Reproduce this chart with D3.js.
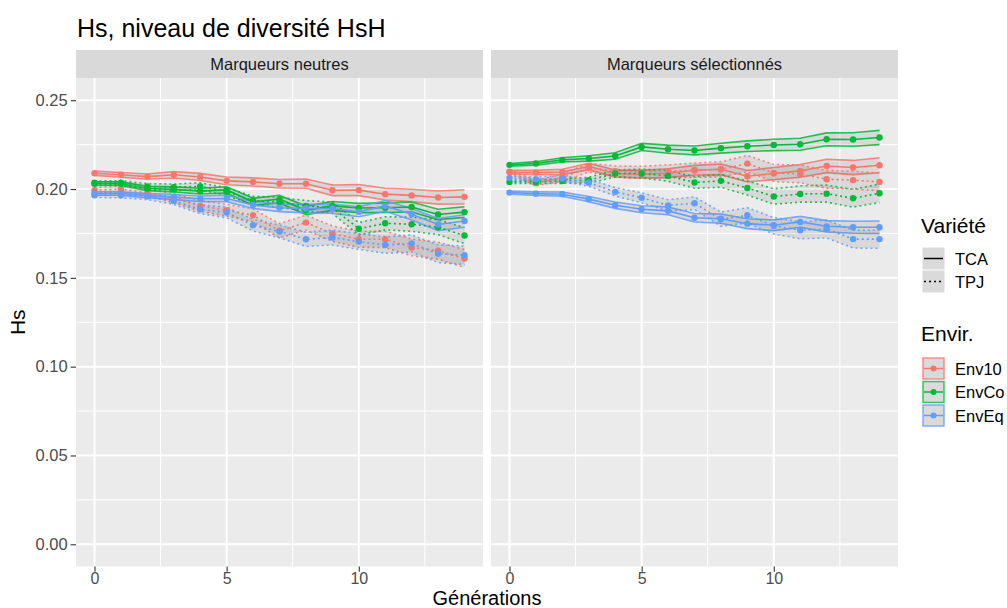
<!DOCTYPE html>
<html><head><meta charset="utf-8">
<script src="https://cdn.jsdelivr.net/npm/d3@7"></script>
<style>body{margin:0;background:#fff}text{font-family:"Liberation Sans",Arial,sans-serif}</style>
</head><body><svg id="c" width="1007" height="608"></svg>
<script>
// ---------------- data ----------------
const generations = [0,1,2,3,4,5,6,7,8,9,10,11,12,13,14];
const panels = ["Marqueurs neutres", "Marqueurs sélectionnés"];
const envs = ["Env10", "EnvCo", "EnvEq"];
const varieties = ["TCA", "TPJ"];
const yTicks = [0, 0.05, 0.10, 0.15, 0.20, 0.25];
const yTickLabels = ["0.00", "0.05", "0.10", "0.15", "0.20", "0.25"];
const xTicks = [0, 5, 10];

// Marqueurs neutres
const neu_Env10_TCA = [0.2089,0.2080,0.2070,0.2080,0.2068,0.2046,0.2040,0.2030,0.2030,0.1993,0.1994,0.1971,0.1964,0.1952,0.1956];
const neu_Env10_TCA_se = [0.0012,0.0013,0.0015,0.0018,0.0020,0.0022,0.0023,0.0024,0.0026,0.0030,0.0031,0.0033,0.0035,0.0037,0.0040];
const neu_Env10_TPJ = [0.1993,0.1999,0.1979,0.1948,0.1905,0.1881,0.1852,0.1765,0.1811,0.1749,0.1717,0.1717,0.1671,0.1653,0.1609];
const neu_Env10_TPJ_se = [0.0015,0.0017,0.0020,0.0025,0.0030,0.0033,0.0036,0.0040,0.0042,0.0043,0.0045,0.0046,0.0047,0.0048,0.0050];
const neu_EnvCo_TCA = [0.2030,0.2030,0.2003,0.1998,0.1988,0.1995,0.1928,0.1943,0.1880,0.1905,0.1893,0.1895,0.1899,0.1857,0.1870];
const neu_EnvCo_TCA_se = [0.0010,0.0010,0.0012,0.0014,0.0016,0.0018,0.0020,0.0022,0.0024,0.0025,0.0026,0.0027,0.0028,0.0029,0.0030];
const neu_EnvCo_TPJ = [0.2035,0.2035,0.2015,0.2010,0.2015,0.1985,0.1935,0.1925,0.1905,0.1895,0.1776,0.1807,0.1802,0.1785,0.1738];
const neu_EnvCo_TPJ_se = [0.0010,0.0012,0.0015,0.0018,0.0020,0.0022,0.0025,0.0028,0.0030,0.0032,0.0035,0.0037,0.0040,0.0042,0.0045];
const neu_EnvEq_TCA = [0.1975,0.1975,0.1963,0.1955,0.1945,0.1947,0.1910,0.1895,0.1890,0.1890,0.1872,0.1905,0.1858,0.1800,0.1820];
const neu_EnvEq_TCA_se = [0.0010,0.0010,0.0012,0.0014,0.0016,0.0018,0.0020,0.0022,0.0024,0.0026,0.0028,0.0030,0.0032,0.0034,0.0035];
const neu_EnvEq_TPJ = [0.1965,0.1965,0.1959,0.1933,0.1886,0.1868,0.1796,0.1761,0.1717,0.1727,0.1704,0.1685,0.1693,0.1636,0.1627];
const neu_EnvEq_TPJ_se = [0.0012,0.0015,0.0018,0.0020,0.0025,0.0030,0.0033,0.0036,0.0040,0.0042,0.0044,0.0046,0.0048,0.0050,0.0052];

// Marqueurs sélectionnés
const sel_Env10_TCA = [0.2096,0.2093,0.2096,0.2127,0.2087,0.2083,0.2089,0.2106,0.2111,0.2072,0.2087,0.2102,0.2130,0.2121,0.2134];
const sel_Env10_TCA_se = [0.0010,0.0012,0.0015,0.0018,0.0020,0.0022,0.0025,0.0027,0.0030,0.0032,0.0034,0.0036,0.0038,0.0040,0.0042];
const sel_Env10_TPJ = [0.2098,0.2033,0.2065,0.2120,0.2100,0.2095,0.2100,0.2106,0.2111,0.2143,0.2090,0.2085,0.2055,0.2050,0.2040];
const sel_Env10_TPJ_se = [0.0010,0.0015,0.0020,0.0025,0.0030,0.0033,0.0036,0.0040,0.0043,0.0046,0.0048,0.0050,0.0050,0.0050,0.0050];
const sel_EnvCo_TCA = [0.2136,0.2144,0.2164,0.2172,0.2186,0.2237,0.2224,0.2217,0.2230,0.2241,0.2248,0.2252,0.2280,0.2279,0.2290];
const sel_EnvCo_TCA_se = [0.0008,0.0010,0.0012,0.0015,0.0018,0.0020,0.0023,0.0025,0.0028,0.0030,0.0032,0.0034,0.0036,0.0038,0.0040];
const sel_EnvCo_TPJ = [0.2040,0.2040,0.2045,0.2050,0.2087,0.2087,0.2074,0.2037,0.2046,0.2006,0.1958,0.1972,0.1974,0.1948,0.1976];
const sel_EnvCo_TPJ_se = [0.0008,0.0010,0.0013,0.0016,0.0020,0.0025,0.0030,0.0033,0.0036,0.0040,0.0043,0.0046,0.0048,0.0050,0.0052];
const sel_EnvEq_TCA = [0.1980,0.1974,0.1971,0.1943,0.1909,0.1886,0.1877,0.1838,0.1833,0.1805,0.1796,0.1815,0.1790,0.1785,0.1785];
const sel_EnvEq_TCA_se = [0.0008,0.0010,0.0012,0.0015,0.0018,0.0020,0.0022,0.0024,0.0026,0.0028,0.0030,0.0031,0.0032,0.0034,0.0035];
const sel_EnvEq_TPJ = [0.2063,0.2055,0.2059,0.2036,0.1984,0.1951,0.1908,0.1920,0.1830,0.1852,0.1793,0.1768,0.1775,0.1718,0.1718];
const sel_EnvEq_TPJ_se = [0.0010,0.0013,0.0016,0.0020,0.0024,0.0028,0.0032,0.0036,0.0040,0.0043,0.0046,0.0048,0.0050,0.0050,0.0052];

const seriesByPanel = [
  {Env10:{TCA:[neu_Env10_TCA,neu_Env10_TCA_se],TPJ:[neu_Env10_TPJ,neu_Env10_TPJ_se]},
   EnvCo:{TCA:[neu_EnvCo_TCA,neu_EnvCo_TCA_se],TPJ:[neu_EnvCo_TPJ,neu_EnvCo_TPJ_se]},
   EnvEq:{TCA:[neu_EnvEq_TCA,neu_EnvEq_TCA_se],TPJ:[neu_EnvEq_TPJ,neu_EnvEq_TPJ_se]}},
  {Env10:{TCA:[sel_Env10_TCA,sel_Env10_TCA_se],TPJ:[sel_Env10_TPJ,sel_Env10_TPJ_se]},
   EnvCo:{TCA:[sel_EnvCo_TCA,sel_EnvCo_TCA_se],TPJ:[sel_EnvCo_TPJ,sel_EnvCo_TPJ_se]},
   EnvEq:{TCA:[sel_EnvEq_TCA,sel_EnvEq_TCA_se],TPJ:[sel_EnvEq_TPJ,sel_EnvEq_TPJ_se]}}
];

// ---------------- layout ----------------
const colors = {Env10:"#F8766D", EnvCo:"#00BA38", EnvEq:"#619CFF"};
const dash = {TCA:null, TPJ:"2,3"};
const panelX = [[76,483],[491,898]];
const panelTop = 78, panelBottom = 566.5, stripTop = 50;
const y = d3.scaleLinear().domain([-0.0125, 0.2625]).range([panelBottom, panelTop]);
const svg = d3.select("#c");
const LW = 1.6;

svg.append("text").attr("x",77).attr("y",37).attr("font-size",25).attr("fill","#000").text("Hs, niveau de diversité HsH");

panels.forEach((pname, pi) => {
  const [x0,x1] = panelX[pi];
  const x = d3.scaleLinear().domain([-0.7,14.7]).range([x0,x1]);
  const g = svg.append("g");
  // strip
  g.append("rect").attr("x",x0).attr("y",stripTop).attr("width",x1-x0).attr("height",panelTop-stripTop).attr("fill","#D9D9D9");
  g.append("text").attr("x",(x0+x1)/2).attr("y",(stripTop+panelTop)/2+6).attr("text-anchor","middle").attr("font-size",16.5).attr("fill","#1A1A1A").text(pname);
  // panel bg
  g.append("rect").attr("x",x0).attr("y",panelTop).attr("width",x1-x0).attr("height",panelBottom-panelTop).attr("fill","#EBEBEB");
  // grid
  const yMinor = [0.025,0.075,0.125,0.175,0.225];
  const xMinor = [2.5,7.5,12.5];
  g.selectAll(null).data(yMinor).join("line").attr("x1",x0).attr("x2",x1).attr("y1",d=>y(d)).attr("y2",d=>y(d)).attr("stroke","#fff").attr("stroke-width",1);
  g.selectAll(null).data(xMinor).join("line").attr("y1",panelTop).attr("y2",panelBottom).attr("x1",d=>x(d)).attr("x2",d=>x(d)).attr("stroke","#fff").attr("stroke-width",1);
  g.selectAll(null).data(yTicks).join("line").attr("x1",x0).attr("x2",x1).attr("y1",d=>y(d)).attr("y2",d=>y(d)).attr("stroke","#fff").attr("stroke-width",2);
  g.selectAll(null).data(xTicks).join("line").attr("y1",panelTop).attr("y2",panelBottom).attr("x1",d=>x(d)).attr("x2",d=>x(d)).attr("stroke","#fff").attr("stroke-width",2);

  const data = seriesByPanel[pi];
  const area = d3.area().x((d,i)=>x(generations[i])).y0(d=>y(d[0]-d[1])).y1(d=>y(d[0]+d[1]));
  const line = d3.line().x((d,i)=>x(generations[i])).y(d=>y(d));
  const groups = [];
  envs.forEach(e => varieties.forEach(v => groups.push({e,v,m:data[e][v][0],s:data[e][v][1]})));
  // ribbons
  groups.forEach(gr => {
    const pts = gr.m.map((m,i)=>[m,gr.s[i]]);
    g.append("path").attr("d",area(pts)).attr("fill","#333333").attr("fill-opacity",0.1);
    const up = gr.m.map((m,i)=>m+gr.s[i]), lo = gr.m.map((m,i)=>m-gr.s[i]);
    [up,lo].forEach(arr => g.append("path").attr("d",line(arr)).attr("fill","none")
      .attr("stroke",colors[gr.e]).attr("stroke-width",LW).attr("stroke-opacity",0.85).attr("stroke-dasharray",dash[gr.v]));
  });
  // lines
  groups.forEach(gr => {
    g.append("path").attr("d",line(gr.m)).attr("fill","none").attr("stroke",colors[gr.e]).attr("stroke-width",LW).attr("stroke-dasharray",dash[gr.v]);
  });
  // points
  groups.forEach(gr => {
    g.selectAll(null).data(gr.m).join("circle").attr("cx",(d,i)=>x(generations[i])).attr("cy",d=>y(d)).attr("r",3.2).attr("fill",colors[gr.e]);
  });
  // x axis
  const xa = svg.append("g").attr("transform",`translate(0,${panelBottom})`)
    .call(d3.axisBottom(x).tickValues(xTicks).tickSize(5.3).tickPadding(1));
  xa.select(".domain").remove();
  xa.selectAll("line").attr("stroke","#333").attr("stroke-width",1.1);
  xa.selectAll("text").attr("font-size",16).attr("fill","#4D4D4D").attr("font-family","Liberation Sans, Arial, sans-serif");
});

// y axis
const ya = svg.append("g").attr("transform",`translate(76,0)`)
  .call(d3.axisLeft(y).tickValues(yTicks).tickFormat((d,i)=>yTickLabels[i]).tickSize(5.3).tickPadding(3));
ya.select(".domain").remove();
ya.selectAll("line").attr("stroke","#333").attr("stroke-width",1.1);
ya.selectAll("text").attr("font-size",16.5).attr("fill","#4D4D4D").attr("font-family","Liberation Sans, Arial, sans-serif");

// axis titles
svg.append("text").attr("x",487).attr("y",605).attr("text-anchor","middle").attr("font-size",20).text("Générations");
svg.append("text").attr("transform",`translate(25,${(panelTop+panelBottom)/2}) rotate(-90)`).attr("text-anchor","middle").attr("font-size",21).text("Hs");

// legends
const lx = 922, ks = 23;
svg.append("text").attr("x",921).attr("y",233).attr("font-size",21).text("Variété");
varieties.forEach((v,i) => {
  const ky = 247 + i*ks;
  svg.append("rect").attr("x",lx+0.5).attr("y",ky+0.5).attr("width",ks-1).attr("height",ks-1).attr("fill","#DADADA");
  svg.append("line").attr("x1",lx+2).attr("x2",lx+ks-2).attr("y1",ky+ks/2).attr("y2",ky+ks/2).attr("stroke","#000").attr("stroke-width",1.5).attr("stroke-dasharray",dash[v]);
  svg.append("text").attr("x",955).attr("y",ky+ks/2+6).attr("font-size",16.5).text(v);
});
svg.append("text").attr("x",921).attr("y",341).attr("font-size",21).text("Envir.");
envs.forEach((e,i) => {
  const ky = 357 + i*(ks+0.5);
  svg.append("rect").attr("x",lx+1).attr("y",ky+1).attr("width",ks-2).attr("height",ks-2).attr("fill","#DADADA")
    .attr("stroke",colors[e]).attr("stroke-width",1.5).attr("stroke-opacity",0.8);
  svg.append("line").attr("x1",lx+2).attr("x2",lx+ks-2).attr("y1",ky+ks/2).attr("y2",ky+ks/2).attr("stroke",colors[e]).attr("stroke-width",1.5);
  svg.append("circle").attr("cx",lx+ks/2).attr("cy",ky+ks/2).attr("r",3).attr("fill",colors[e]);
  svg.append("text").attr("x",955).attr("y",ky+ks/2+6).attr("font-size",16.5).text(e);
});
</script></body></html>
